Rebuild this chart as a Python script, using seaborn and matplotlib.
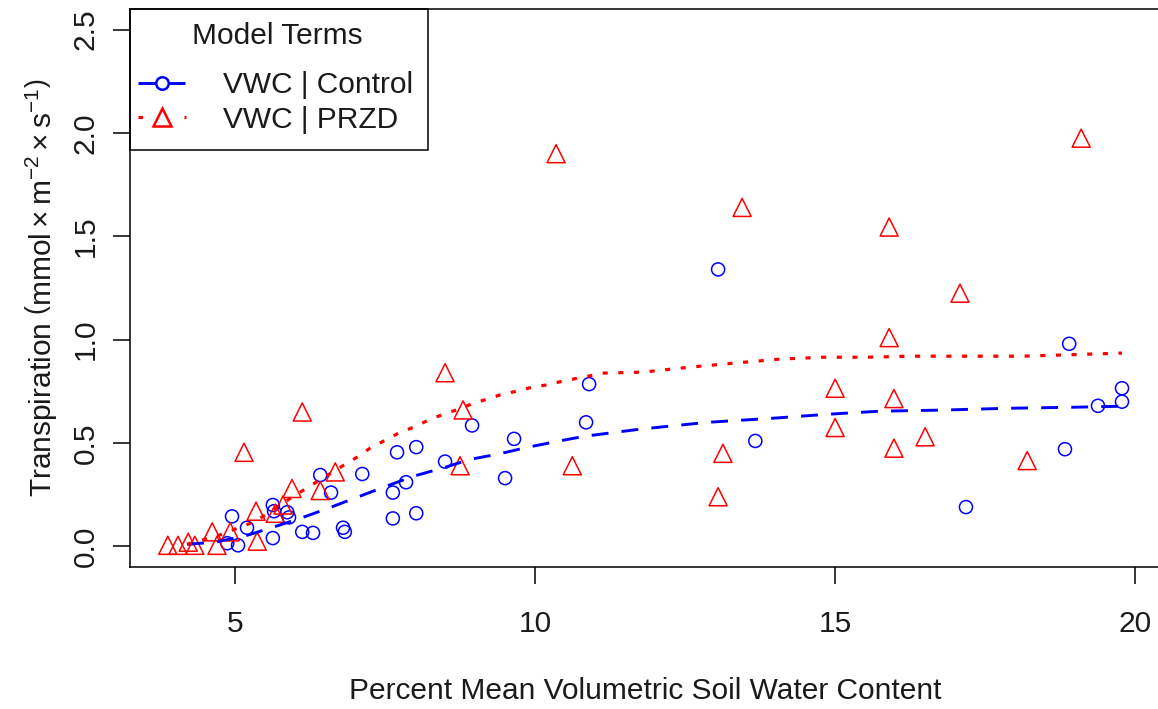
import numpy as np
import pandas as pd
import matplotlib
matplotlib.use("Agg")
import matplotlib.pyplot as plt
import seaborn as sns
from matplotlib.lines import Line2D
from matplotlib.patches import Rectangle

# ---------------- data ----------------
control_vwc = [4.87, 5.05, 4.95, 5.20, 5.63, 5.65, 5.63, 5.87, 5.90, 6.12, 6.30,
               6.42, 6.60, 6.80, 6.83, 7.12, 7.63, 7.63, 7.70, 7.85, 8.02, 8.02,
               8.50, 8.95, 9.50, 9.65, 10.85, 10.90, 13.05, 13.67, 17.18, 18.83,
               18.90, 19.38, 19.78, 19.78]
control_transp = [0.015, 0.005, 0.145, 0.09, 0.20, 0.17, 0.04, 0.165, 0.14, 0.07, 0.065,
                  0.345, 0.26, 0.09, 0.07, 0.35, 0.26, 0.135, 0.455, 0.31, 0.48, 0.16,
                  0.41, 0.585, 0.33, 0.52, 0.60, 0.785, 1.34, 0.51, 0.19, 0.47,
                  0.98, 0.68, 0.70, 0.765]

przd_vwc = [3.88, 4.05, 4.22, 4.33, 4.62, 4.70, 4.92, 5.15, 5.35, 5.37, 5.67, 5.80,
            5.95, 6.12, 6.42, 6.67, 8.50, 8.80, 8.75, 10.35, 10.62, 13.05, 13.13,
            13.45, 15.00, 15.00, 15.90, 15.90, 15.98, 15.98, 16.50, 17.08, 18.20, 19.10]
przd_transp = [0.005, 0.005, 0.02, 0.005, 0.07, 0.005, 0.07, 0.455, 0.17, 0.025, 0.16, 0.20,
               0.28, 0.65, 0.27, 0.36, 0.84, 0.66, 0.39, 1.90, 0.39, 0.24, 0.45,
               1.64, 0.575, 0.765, 1.01, 1.545, 0.475, 0.715, 0.53, 1.225, 0.415, 1.975]

fit_control_vwc = [4.20, 4.67, 5.20, 5.63, 6.13, 6.55, 7.03, 7.42, 7.97, 8.45, 8.92,
                   9.38, 9.87, 10.37, 10.83, 11.75, 12.87, 13.97, 14.87, 15.75, 16.75,
                   17.87, 18.97, 19.78]
fit_control_transp = [0.01, 0.02, 0.053, 0.092, 0.14, 0.184, 0.237, 0.28, 0.339, 0.378, 0.421,
                      0.446, 0.479, 0.508, 0.533, 0.567, 0.60, 0.62, 0.639, 0.654, 0.659,
                      0.668, 0.673, 0.678]

fit_przd_vwc = [4.20, 4.70, 5.25, 5.50, 5.92, 6.13, 6.78, 7.03, 7.25, 7.50, 7.72, 7.97,
                8.22, 8.47, 8.72, 8.97, 9.20, 9.45, 9.70, 9.95, 10.17, 10.38, 10.63,
                10.88, 11.12, 11.80, 12.58, 13.30, 14.08, 14.80, 15.53, 16.25, 17.30,
                18.13, 19.78]
fit_przd_transp = [0.01, 0.05, 0.111, 0.15, 0.232, 0.27, 0.387, 0.431, 0.475, 0.513, 0.547, 0.576,
                   0.61, 0.639, 0.663, 0.692, 0.712, 0.736, 0.751, 0.77, 0.78, 0.794, 0.809,
                   0.823, 0.838, 0.843, 0.867, 0.886, 0.906, 0.915, 0.915, 0.92, 0.92,
                   0.92, 0.935]

x_ticks = [5, 10, 15, 20]
y_ticks = [0.0, 0.5, 1.0, 1.5, 2.0, 2.5]
y_tick_labels = ["0.0", "0.5", "1.0", "1.5", "2.0", "2.5"]
legend_labels = ["VWC | Control", "VWC | PRZD"]
legend_title = "Model Terms"
x_label = "Percent Mean Volumetric Soil Water Content"
y_label = r"Transpiration $\left(\mathrm{mmol}\times\mathrm{m}^{-2}\times\mathrm{s}^{-1}\right)$"

# ---------------- style ----------------
sns.set_theme(style="white")
plt.rcParams["font.family"] = ["Liberation Sans", "DejaVu Sans"]
plt.rcParams["mathtext.fontset"] = "custom"
plt.rcParams["mathtext.rm"] = "Liberation Sans"
plt.rcParams["mathtext.it"] = "Liberation Sans:italic"
plt.rcParams["mathtext.bf"] = "Liberation Sans:bold"

FS = 21.5
BLUE = "#0000FF"
RED = "#FF0000"
blue_dash = (0, (5.8, 4.5))
red_dot = (0, (1.6, 3.3))

W, H = 1158, 709
fig = plt.figure(figsize=(W / 100, H / 100), dpi=100)
ax_l, ax_r, ax_t, ax_b = 130, 1161, 9, 567
ax = fig.add_axes([ax_l / W, 1 - ax_b / H, (ax_r - ax_l) / W, (ax_b - ax_t) / H])

df_c = pd.DataFrame({"vwc": control_vwc, "tr": control_transp})
df_p = pd.DataFrame({"vwc": przd_vwc, "tr": przd_transp})
fit_c = pd.DataFrame({"vwc": fit_control_vwc, "tr": fit_control_transp})
fit_p = pd.DataFrame({"vwc": fit_przd_vwc, "tr": fit_przd_transp})

sns.scatterplot(data=df_c, x="vwc", y="tr", ax=ax, marker="o", s=9.4 ** 2,
                facecolors="none", edgecolor=BLUE, linewidth=1.1, zorder=3)
sns.scatterplot(data=df_p, x="vwc", y="tr", ax=ax, marker="^", s=13 ** 2,
                facecolors="none", edgecolor=RED, linewidth=1.1, zorder=3)
sns.lineplot(data=fit_c, x="vwc", y="tr", ax=ax, color=BLUE, lw=2.1,
             linestyle=blue_dash, estimator=None, zorder=4)
sns.lineplot(data=fit_p, x="vwc", y="tr", ax=ax, color=RED, lw=2.3,
             linestyle=red_dot, estimator=None, zorder=4)

ax.set_xlim(3.25, 20.43)
ax.set_ylim(-0.1, 2.6)
ax.set_xticks(x_ticks)
ax.set_xticklabels([str(t) for t in x_ticks])
ax.set_yticks(y_ticks)
ax.set_yticklabels(y_tick_labels)

for sp in ax.spines.values():
    sp.set_visible(True)
    sp.set_color("black")
    sp.set_linewidth(1.1)

ax.tick_params(axis="both", which="major", direction="out", length=12,
               width=1.1, color="black", labelsize=FS, labelcolor="#1a1a1a",
               left=True, bottom=True)
ax.tick_params(axis="x", pad=19)
ax.tick_params(axis="y", pad=10, labelrotation=90)
for lab in ax.get_yticklabels():
    lab.set_va("center")

ax.set_xlabel(x_label, fontsize=FS, color="#1a1a1a")
ax.xaxis.set_label_coords(0.5, (ax_b - 691) / (ax_b - ax_t))
ax.xaxis.label.set_va("center")
ax.set_ylabel(y_label, fontsize=FS, color="#1a1a1a")
ax.yaxis.set_label_coords((41 - ax_l) / (ax_r - ax_l), 0.5)
ax.yaxis.label.set_va("center")

# ---------------- legend ----------------
def ax_xy(px, py):
    return (px - ax_l) / (ax_r - ax_l), 1 - (py - ax_t) / (ax_b - ax_t)

handles = [
    Line2D([], [], color=BLUE, lw=2.1, linestyle=blue_dash, marker="o",
           markersize=9.0, markerfacecolor="none", markeredgecolor=BLUE, markeredgewidth=1.8),
    Line2D([], [], color=RED, lw=2.3, linestyle=(0, (1.4, 13.0)), marker="^",
           markersize=12.5, markerfacecolor="none", markeredgecolor=RED, markeredgewidth=1.8),
]
lx, ly = ax_xy(138, 71)
leg = ax.legend(handles, legend_labels, loc="upper left", bbox_to_anchor=(lx, ly),
                bbox_transform=ax.transAxes, frameon=False, fontsize=FS,
                borderpad=0, borderaxespad=0, handlelength=1.6, handletextpad=1.25,
                labelspacing=0.22, numpoints=1)
for t in leg.get_texts():
    t.set_color("#1a1a1a")

x0, y0 = ax_xy(130, 150)
x1, y1 = ax_xy(428, 10)
ax.add_patch(Rectangle((x0, y0), x1 - x0, 1.0 - y0, transform=ax.transAxes,
                       fill=False, edgecolor="black", lw=1.1, zorder=5, clip_on=False))
tx, ty = ax_xy(277, 36)
ax.text(tx, ty, legend_title, transform=ax.transAxes, ha="center", va="center",
        fontsize=FS, color="#1a1a1a")

fig.savefig("out.png", dpi=100)
